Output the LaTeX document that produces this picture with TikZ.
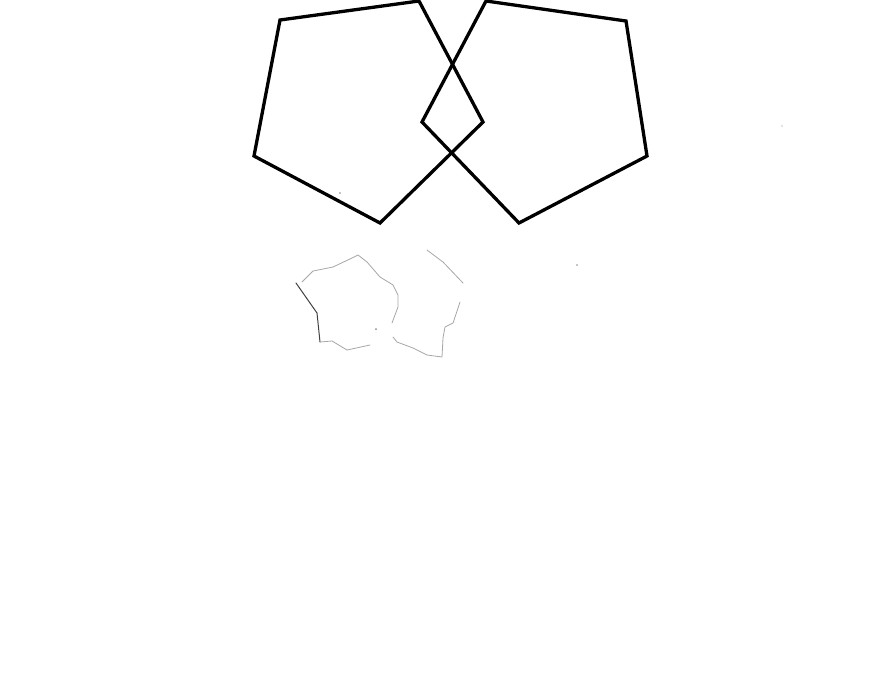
\documentclass[tikz,border=0pt]{standalone}
\begin{document}
\begin{tikzpicture}[x=1pt,y=-1pt,
  pent/.style={draw=black,line width=3.3pt,line join=miter},
  faint/.style={draw=black!35,line width=0.8pt,line join=round,line cap=round},
  faintdark/.style={draw=black!75,line width=1pt,line cap=round},
  speck/.style={fill=black!45}]
\useasboundingbox (0,0) rectangle (882,683);
% left pentagon
\coordinate (l1) at (280,20);
\coordinate (l2) at (419,1);
\coordinate (l3) at (483,122);
\coordinate (l4) at (380,223);
\coordinate (l5) at (254,156);
\draw[pent] (l1) -- (l2) -- (l3) -- (l4) -- (l5) -- cycle;
% right pentagon
\coordinate (r1) at (486,1);
\coordinate (r2) at (626,21);
\coordinate (r3) at (647,156);
\coordinate (r4) at (519,223);
\coordinate (r5) at (422,122);
\draw[pent] (r1) -- (r2) -- (r3) -- (r4) -- (r5) -- cycle;
% faint sketchy outlines
\draw[faint] (302,282) -- (313,271) -- (333,267) -- (352,258) -- (358,255) -- (367,262) -- (380,277) -- (393,285) -- (398,295) -- (398,307) -- (392,323);
\draw[faintdark] (296,283) -- (317,313) -- (320,342);
\draw[faint] (320,342) -- (332,341) -- (347,350) -- (370,345);
\draw[faint] (427,250) -- (443,262) -- (463,283);
\draw[faint] (460,302) -- (453,323) -- (445,327) -- (443,338) -- (442,357) -- (427,355) -- (413,348) -- (397,342) -- (393,337);
\fill[speck] (376,329) circle (1pt);
\fill[speck] (340,193) circle (0.8pt);
\fill[speck] (577,265) circle (0.8pt);
\fill[speck] (782,126) circle (0.6pt);
\end{tikzpicture}
\end{document}
